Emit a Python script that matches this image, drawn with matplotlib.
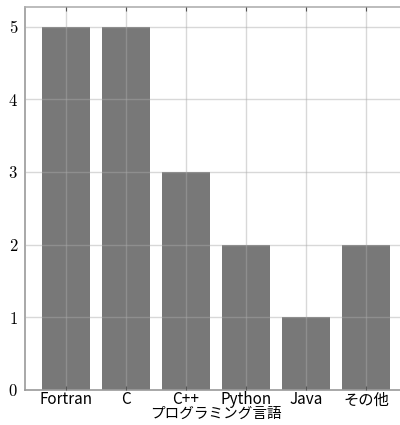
import matplotlib
matplotlib.use("Agg")
import matplotlib.pyplot as plt

plt.rcParams['font.family'] = ['Noto Sans CJK JP', 'DejaVu Sans']
plt.rcParams['mathtext.fontset'] = 'cm'

# データ
languages = ["Fortran", "C", "C++", "Python", "Java", "その他"]
counts = [5, 5, 3, 2, 1, 2]
yticks = [0, 1, 2, 3, 4, 5]

fig = plt.figure(figsize=(4.0, 4.25), dpi=100)
ax = fig.add_axes([25 / 400, 35 / 425, 382 / 400, 383 / 425])

x = list(range(len(languages)))
ax.bar(x, counts, width=0.8, color="#787878", zorder=1)

ax.set_xlim(-0.68, 5.68)
ax.set_ylim(0, 5.27)
ax.set_xticks(x)
ax.set_xticklabels(languages, fontsize=11)
ax.set_yticks(yticks)
ax.set_yticklabels(["$%d$" % v for v in yticks], fontsize=12)
ax.set_xlabel("プログラミング言語", fontsize=10.5, labelpad=-1)

ax.grid(True, color="#aaaaaa", alpha=0.45, linewidth=1.0, zorder=2)
ax.set_axisbelow(False)
ax.tick_params(axis="x", direction="in", length=3, top=True, pad=1, color="#555555")
ax.tick_params(axis="y", direction="in", length=0, pad=5)
for s in ax.spines.values():
    s.set_color("#b0b0b0")
    s.set_linewidth(1.2)
ax.spines["left"].set_color("#999999")
ax.spines["bottom"].set_color("#999999")

fig.savefig("out.png", dpi=100)
